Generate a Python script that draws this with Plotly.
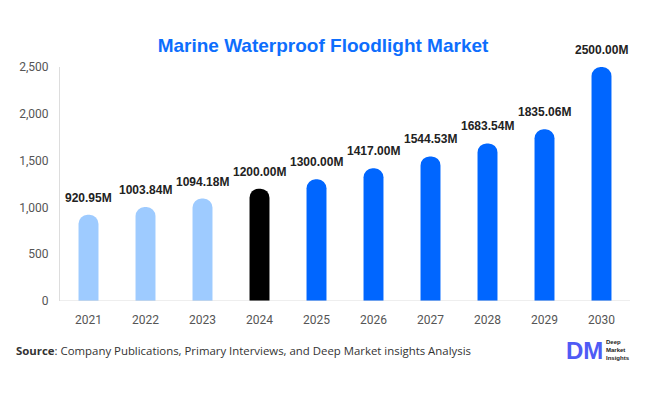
import plotly.graph_objects as go

years = ["2021", "2022", "2023", "2024", "2025", "2026", "2027", "2028", "2029", "2030"]
values = [920.95, 1003.84, 1094.18, 1200.00, 1300.00, 1417.00, 1544.53, 1683.54, 1835.06, 2500.00]
labels = ["920.95M", "1003.84M", "1094.18M", "1200.00M", "1300.00M", "1417.00M", "1544.53M", "1683.54M", "1835.06M", "2500.00M"]
colors = ["#9ECBFF"] * 3 + ["#000000"] + ["#0066FF"] * 6

fig = go.Figure(go.Bar(
    x=years, y=values,
    marker=dict(color=colors, cornerradius=10, line=dict(width=0)),
    width=0.35, cliponaxis=False,
))

# category axis: annotation x is the category index
label_annotations = [
    dict(x=i, y=v, text=f"<b>{t}</b>", xref="x", yref="y", showarrow=False,
         yanchor="bottom", yshift=8,
         font=dict(family="Arial, Liberation Sans, sans-serif", size=12, color="#222222"))
    for i, (v, t) in enumerate(zip(values, labels))
]

fig.update_layout(
    width=646, height=394,
    margin=dict(l=60, r=16, t=67, b=93),
    paper_bgcolor="white", plot_bgcolor="white",
    title=dict(text="<b>Marine Waterproof Floodlight Market</b>", x=0.5, xanchor="center",
               y=0.885, yanchor="middle",
               font=dict(family="Arial, Liberation Sans, sans-serif", size=19, color="#0D6EFD")),
    showlegend=False,
    xaxis=dict(type="category", showgrid=False, showline=False, zeroline=False, automargin=False,
               ticks="outside", ticklen=8, tickcolor="rgba(0,0,0,0)",
               tickfont=dict(family="Roboto, Arial, sans-serif", size=12, color="#555555")),
    yaxis=dict(range=[0, 2500], tickvals=[0, 500, 1000, 1500, 2000, 2500], tickformat=",",
               showgrid=False, showline=True, linecolor="#DDDDDD", linewidth=1, zeroline=False,
               ticks="", ticklabelstandoff=8, automargin=False,
               tickfont=dict(family="Roboto, Arial, sans-serif", size=12, color="#555555")),
    shapes=[dict(type="line", xref="paper", yref="y", x0=0, x1=1, y0=0, y1=0,
                 line=dict(color="#DDDDDD", width=1))],
    annotations=label_annotations + [
        dict(text="<b>Source</b>: Company Publications, Primary Interviews, and Deep Market insights Analysis",
             xref="paper", yref="paper", x=-0.081, y=-0.21, xanchor="left", yanchor="middle",
             showarrow=False, font=dict(family="Open Sans, Lato, sans-serif", size=11.4, color="#333333")),
        dict(text="<b>DM</b>", xref="paper", yref="paper", x=0.885, y=-0.21, xanchor="left", yanchor="middle",
             showarrow=False, font=dict(family="Arial, sans-serif", size=24, color="#4F5BF5")),
        dict(text="<b>Deep<br>Market<br>Insights</b>", xref="paper", yref="paper", x=0.955, y=-0.21,
             xanchor="left", yanchor="middle", align="left",
             showarrow=False, font=dict(family="Arial, sans-serif", size=6, color="#222222")),
    ],
)

fig.write_html("out.html", config={"displayModeBar": False},
               post_script="document.body.style.margin='0';")
